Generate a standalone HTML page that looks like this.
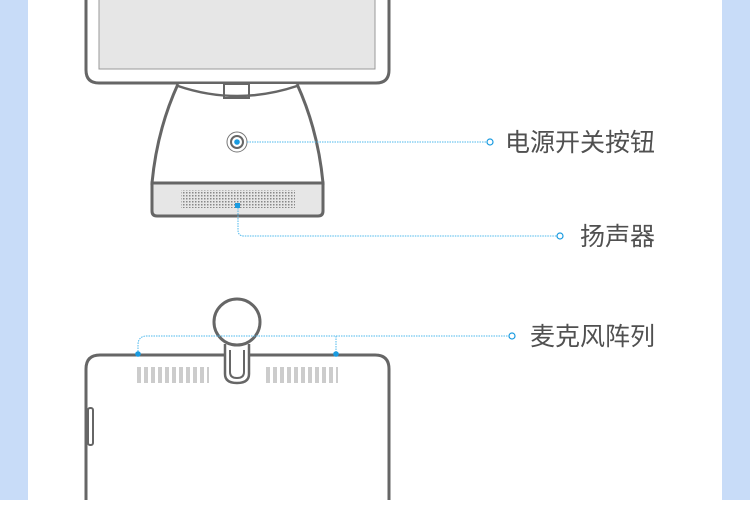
<!DOCTYPE html>
<html><head><meta charset="utf-8"><style>
body{margin:0;width:750px;height:500px;overflow:hidden;background:#fff}
.t{font-family:"Liberation Sans","Noto Sans CJK SC",sans-serif;font-size:25px;fill:#505050}
</style></head><body>
<svg width="750" height="500" viewBox="0 0 750 500">
<defs>
<pattern id="dots" width="3" height="3" patternUnits="userSpaceOnUse"><rect width="1.5" height="1.5" fill="#888"/></pattern>
</defs>
<rect x="0" y="0" width="28" height="500" fill="#c8dcf8"/>
<rect x="722" y="0" width="28" height="500" fill="#c8dcf8"/>
<!-- top device -->
<path d="M86,-5 V70 Q86,83 99,83 H376 Q389,83 389,70 V-5" fill="#fff" stroke="#666" stroke-width="3"/>
<rect x="99" y="-5" width="276" height="74" fill="#e6e6e6" stroke="#999" stroke-width="1"/>
<!-- stand -->
<path d="M178,84 Q157,130 152,183 H323 Q318,130 297,84" fill="#fff" stroke="#666" stroke-width="3"/>
<path d="M178,86 Q237,106 297,86" fill="none" stroke="#666" stroke-width="2.5"/>
<rect x="224" y="84" width="25" height="14" fill="none" stroke="#666" stroke-width="2"/>
<path d="M152,183 H323 V211 Q323,216 318,216 H157 Q152,216 152,211 Z" fill="#e6e6e6" stroke="#666" stroke-width="3"/>
<rect x="181" y="190" width="114" height="18" fill="url(#dots)"/>
<!-- power button -->
<circle cx="237" cy="142" r="10" fill="#fff" stroke="#777" stroke-width="1"/>
<circle cx="237" cy="142" r="6" fill="#fff" stroke="#666" stroke-width="2"/>
<circle cx="237" cy="142" r="2.8" fill="#1a9be0"/>
<line x1="247" y1="142" x2="487" y2="142" stroke="#4db8ec" stroke-width="1" stroke-dasharray="1.5,1"/>
<circle cx="490" cy="142" r="3" fill="#fff" stroke="#1a9be0" stroke-width="1.2"/>
<text x="505" y="151" class="t">电源开关按钮</text>
<!-- speaker -->
<rect x="235" y="203" width="5" height="5" fill="#1a9be0"/>
<path d="M238,208 V230 Q238,236 244,236 H557" fill="none" stroke="#4db8ec" stroke-width="1" stroke-dasharray="1.5,1"/>
<circle cx="560" cy="236" r="3" fill="#fff" stroke="#1a9be0" stroke-width="1.2"/>
<text x="580" y="245" class="t">扬声器</text>
<!-- bottom device -->
<path d="M86,505 V369 Q86,355 100,355 H375 Q389,355 389,369 V505" fill="#fff" stroke="#666" stroke-width="3"/>
<rect x="88" y="408" width="5" height="37" rx="2" fill="#fff" stroke="#666" stroke-width="2"/>
<g fill="#ccc">
<rect x="137" y="367" width="4" height="16"/><rect x="144" y="367" width="4" height="16"/><rect x="151" y="367" width="4" height="16"/><rect x="158" y="367" width="4" height="16"/><rect x="165" y="367" width="4" height="16"/><rect x="172" y="367" width="4" height="16"/><rect x="179" y="367" width="4" height="16"/><rect x="186" y="367" width="4" height="16"/><rect x="193" y="367" width="4" height="16"/><rect x="200" y="367" width="4" height="16"/><rect x="207" y="367" width="2" height="16"/>
<rect x="266" y="367" width="4" height="16"/><rect x="273" y="367" width="4" height="16"/><rect x="280" y="367" width="4" height="16"/><rect x="287" y="367" width="4" height="16"/><rect x="294" y="367" width="4" height="16"/><rect x="301" y="367" width="4" height="16"/><rect x="308" y="367" width="4" height="16"/><rect x="315" y="367" width="4" height="16"/><rect x="322" y="367" width="4" height="16"/><rect x="329" y="367" width="4" height="16"/><rect x="336" y="367" width="2" height="16"/>
</g>
<!-- camera -->
<path d="M225,344 V374 Q225,383 237,383 Q249,383 249,374 V344" fill="#fff" stroke="#666" stroke-width="2.5"/>
<path d="M230,350 V372 Q230,378 237,378 Q244,378 244,372 V350" fill="none" stroke="#666" stroke-width="2"/>
<circle cx="237" cy="322" r="23" fill="#fff" stroke="#666" stroke-width="3"/>
<!-- mic lines -->
<path d="M138,354 V345 Q138,336 147,336 H509" fill="none" stroke="#4db8ec" stroke-width="1" stroke-dasharray="1.5,1"/>
<line x1="336" y1="336" x2="336" y2="354" stroke="#4db8ec" stroke-width="1" stroke-dasharray="1.5,1"/>
<circle cx="138" cy="354" r="2.8" fill="#1a9be0"/>
<circle cx="336" cy="354" r="2.8" fill="#1a9be0"/>
<circle cx="512" cy="336" r="3" fill="#fff" stroke="#1a9be0" stroke-width="1.2"/>
<text x="530" y="345" class="t">麦克风阵列</text>
</svg>
</body></html>
